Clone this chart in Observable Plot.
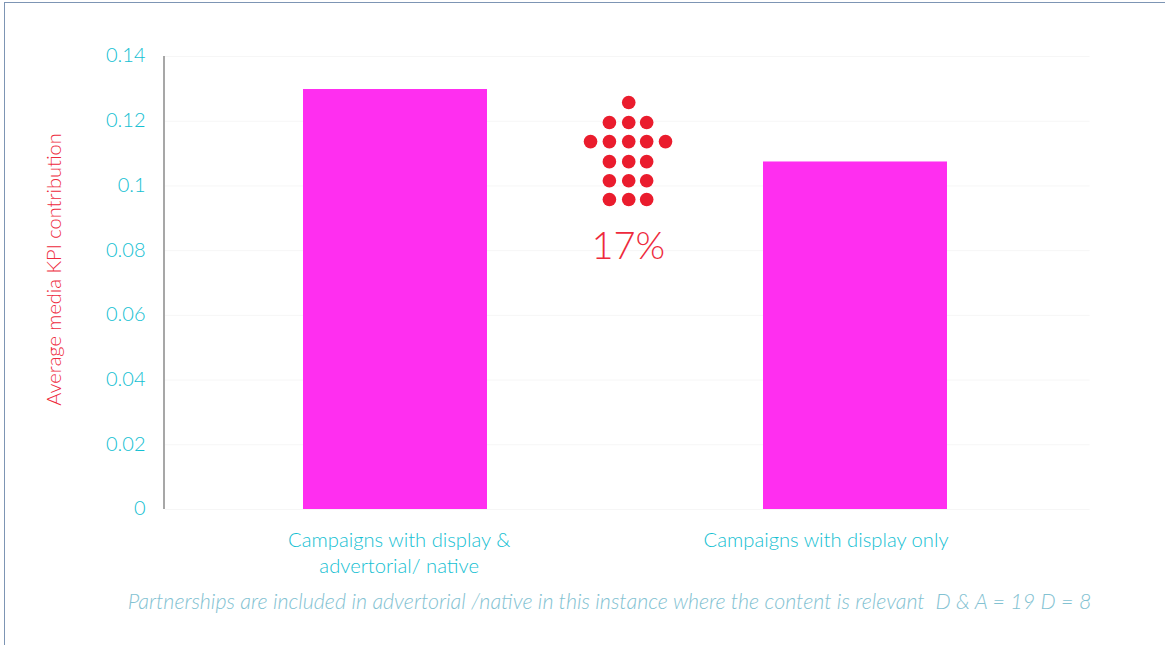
<!DOCTYPE html>
<html>
<head>
<meta charset="utf-8">
<script src="https://cdn.jsdelivr.net/npm/d3@7"></script>
<script src="https://cdn.jsdelivr.net/npm/@observablehq/plot@0.6"></script>
<style>
  html, body { margin: 0; padding: 0; background: #fff; overflow: hidden; }
  #frame { position: absolute; left: 4px; top: 2px; width: 1161px; height: 643px;
           border-left: 1px solid #7d95b4; border-top: 1px solid #7d95b4; box-sizing: border-box; }
  #chart { position: absolute; left: 0; top: 0; }
  svg { display: block; }
</style>
</head>
<body>
<div id="frame"></div>
<div id="chart"></div>
<script>
const categories = ["Campaigns with display &\nadvertorial/ native", "Campaigns with display only"];
const categoryCentres = [0.5, 1.5];
const categoryLabelCentres = [0.508, 1.436];
const kpiValues = [0.1298, 0.1074];
const barHalfWidth = 0.2;
const yTicks = [0, 0.02, 0.04, 0.06, 0.08, 0.1, 0.12, 0.14];

// Arrow made of dots: one x per column, one y per row
const arrowColumns = [0.924, 0.965, 1.007, 1.046, 1.087];
const arrowRows = [0.1258, 0.1196, 0.1137, 0.1075, 0.1016, 0.0958];
const arrowRowColumns = [[2], [1, 2, 3], [0, 1, 2, 3, 4], [1, 2, 3], [1, 2, 3], [1, 2, 3]];
const upliftLabel = "17%";
const upliftPosition = {x: 1.006, y: 0.0813};

const axisTitle = "Average media KPI contribution";
const footnote = "Partnerships are included in advertorial /native in this instance where the content is relevant  D & A = 19 D = 8";

const font = "Lato, sans-serif";
const teal = "#14c0d2";
const red = "#ee2a3c";

const bars = categoryCentres.map((c, i) => ({
  x1: c - barHalfWidth, x2: c + barHalfWidth, value: kpiValues[i]
}));
const categoryLabels = categories.map((name, i) => ({name, x: categoryLabelCentres[i]}));
const arrowDots = arrowRows.flatMap((y, r) => arrowRowColumns[r].map(c => ({x: arrowColumns[c], y})));

const plot = Plot.plot({
  width: 1165,
  height: 645,
  marginLeft: 165,
  marginRight: 80,
  marginTop: 56,
  marginBottom: 136,
  style: {fontFamily: font, fontWeight: 300, background: "transparent", overflow: "visible"},
  x: {domain: [0, 2], axis: null},
  y: {domain: [0, 0.14], axis: null},
  marks: [
    Plot.ruleY(yTicks, {x1: 0, x2: 2.01, stroke: "#f6f6f6"}),
    Plot.rectY(bars, {x1: "x1", x2: "x2", y: "value", fill: "#ff2ef0"}),
    Plot.ruleX([0], {dx: -1.5, stroke: "#8a8a8a", strokeWidth: 1.5}),
    Plot.axisY({
      ticks: yTicks, tickSize: 0, tickPadding: 20, dy: -0.5, tickFormat: d => String(d),
      label: null, fill: teal, fontSize: 20, fontWeight: 300
    }),
    Plot.text(categoryLabels, {
      x: "x", text: "name", frameAnchor: "bottom", lineAnchor: "top", dy: 20,
      lineHeight: 1.25, fill: teal, fontSize: 20.2, fontWeight: 300
    }),
    Plot.dot(arrowDots, {x: "x", y: "y", r: 6.8, fill: "#ea1c2d"}),
    Plot.text([upliftLabel], {
      x: upliftPosition.x, y: upliftPosition.y, fill: red, fontSize: 38, fontWeight: 300
    }),
    // Rotated axis title, placed relative to the frame
    Plot.text([axisTitle], {
      frameAnchor: "left", dx: -111, dy: -13.5, rotate: -90, fill: red, fontSize: 20, fontWeight: 300, textAnchor: "middle"
    }),
    Plot.text([footnote], {
      frameAnchor: "bottom", textAnchor: "middle", dx: -16, dy: 93, fill: "#83c2d2",
      fontSize: 21.45, fontStyle: "italic", fontWeight: 300, lineAnchor: "middle"
    })
  ]
});
document.getElementById("chart").appendChild(plot);
</script>
</body>
</html>
